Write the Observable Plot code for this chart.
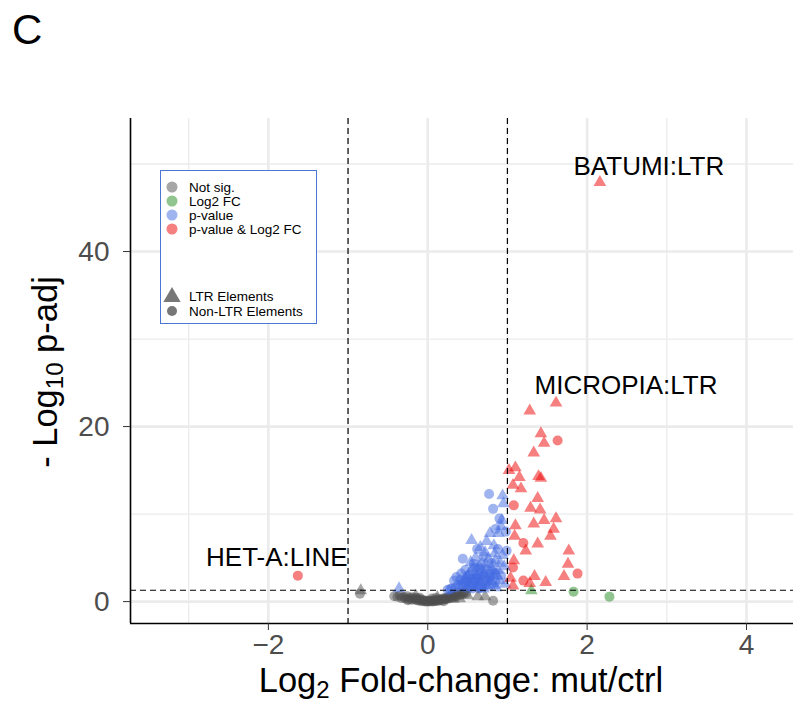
<!DOCTYPE html>
<html><head><meta charset="utf-8">
<script src="https://cdn.jsdelivr.net/npm/d3@7"></script>
<script src="https://cdn.jsdelivr.net/npm/@observablehq/plot@0.6"></script>
<style>
body{margin:0;background:#fff;font-family:"Liberation Sans",Arial,sans-serif;}
#wrap{position:relative;width:793px;height:723px;}
#panel{position:absolute;left:12px;top:6px;font-size:42px;color:#000;z-index:2;}
</style></head><body><div id="wrap"><div id="panel">C</div></div>
<script>
// ---- data (x = log2 fold-change, y = -log10 p-adj) ----
const notSigLTR = [[-0.84,1.26],[0.50,0.69],[0.63,0.57],[0.72,0.57],[0.32,0.30],[0.12,0.50],[-0.15,0.65],[0.40,0.35]];
const notSigNonLTR = [[-0.85,0.91],[-0.42,0.62],[-0.38,0.55],[-0.35,0.70],[-0.33,0.40],[-0.30,0.52],[-0.28,0.35],[-0.26,0.60],[-0.24,0.28],[-0.22,0.45],[-0.20,0.22],[-0.19,0.50],[-0.17,0.30],[-0.15,0.18],[-0.14,0.40],[-0.12,0.12],[-0.11,0.28],[-0.09,0.08],[-0.08,0.22],[-0.06,0.05],[-0.05,0.15],[-0.03,0.02],[-0.02,0.10],[0.00,0.00],[0.01,0.06],[0.03,0.03],[0.04,0.12],[0.06,0.02],[0.07,0.09],[0.09,0.05],[0.10,0.15],[0.12,0.08],[0.13,0.20],[0.15,0.12],[0.16,0.28],[0.18,0.18],[0.19,0.35],[0.21,0.25],[0.22,0.42],[0.24,0.30],[0.25,0.50],[0.27,0.38],[0.28,0.60],[0.30,0.45],[0.31,0.70],[0.33,0.55],[0.35,0.80],[0.36,0.62],[0.38,0.90],[0.40,0.72],[0.42,1.00],[0.44,0.85],[0.46,1.10],[0.48,0.95],[0.82,0.10],[0.05,0.35],[-0.10,0.45],[0.20,0.05],[-0.25,0.15],[0.10,0.40]];
const log2fcLTR = [[1.30,1.26]];
const log2fcNonLTR = [[1.83,1.14],[2.28,0.57]];
const pvalLTR = [[0.94,12.1],[0.95,11.2],[0.93,9.3],[0.78,7.8],[0.89,7.8],[0.55,7.0],[0.66,6.2],[0.83,6.4],[0.85,4.7],[0.94,5.3],[0.72,5.6],[0.60,5.0],[0.68,4.4],[0.76,4.9],[0.80,3.9],[0.88,3.6],[0.63,3.4],[0.70,3.0],[0.56,3.8],[0.50,2.9],[0.58,2.5],[0.66,2.2],[0.74,2.6],[0.82,2.9],[0.90,2.4],[0.52,2.0],[0.62,1.7],[0.77,1.9],[0.86,1.6],[0.45,2.4],[0.48,1.6],[0.70,1.45],[0.97,2.0],[0.92,8.6],[0.74,6.9],[0.64,4.0],[0.54,4.5],[0.84,5.5],[-0.36,1.49],[0.40,1.8],[0.96,4.0],[0.53,3.3],[0.59,1.6],[0.67,3.7],[0.73,4.2],[0.79,2.3],[0.87,3.0],[0.61,2.9],[0.69,2.5],[0.75,1.7],[0.83,1.9],[0.57,3.0],[0.65,1.9],[0.71,3.3],[0.81,3.5],[0.47,2.7],[0.91,4.4]];
const pvalNonLTR = [[0.77,12.3],[0.82,10.6],[0.99,5.8],[0.98,8.0],[0.44,4.9],[0.33,2.4],[0.38,1.9],[0.42,3.2],[0.30,1.5],[0.36,2.8],[0.47,3.6],[0.52,3.0],[0.57,2.1],[0.60,3.9],[0.65,2.8],[0.72,3.7],[0.78,3.2],[0.85,2.2],[0.50,1.5],[0.68,1.6],[0.80,4.4],[0.88,6.0],[0.70,5.2],[0.58,4.3],[0.46,2.2],[0.55,1.8],[0.63,2.6],[0.75,2.4],[0.92,3.0],[0.35,1.6],[0.41,2.5],[0.28,1.4],[0.25,1.35],[0.62,6.0],[0.90,9.5],[0.85,8.3],[0.49,2.3],[0.54,2.6],[0.60,2.3],[0.66,3.1],[0.72,2.0],[0.78,2.8],[0.84,3.3],[0.56,1.5],[0.64,1.5],[0.44,1.7]];
const bothLTR = [[2.16,47.9],[1.61,22.7],[1.28,21.8],[1.42,19.2],[1.46,18.1],[1.33,17.0],[1.02,15.0],[1.10,15.3],[1.15,14.2],[1.39,14.3],[1.42,14.1],[1.07,13.3],[1.17,12.9],[1.38,11.8],[1.29,10.7],[1.41,10.5],[1.61,9.5],[1.46,9.3],[1.33,8.9],[1.58,8.3],[1.54,7.5],[1.10,8.7],[1.09,7.5],[1.23,5.8],[1.38,6.6],[1.77,5.8],[1.76,4.3],[1.08,4.7],[1.71,2.9],[1.34,2.9],[1.48,2.2],[1.04,2.7],[1.07,1.8],[1.28,2.1]];
const bothNonLTR = [[1.63,18.4],[1.08,11.0],[1.20,6.7],[1.07,3.9],[1.88,3.2],[1.20,2.4],[-1.63,2.97]];
const categories = ["Not sig.","Log2 FC","p-value","p-value & Log2 FC"];
const categoryColors = ["#4D4D4D","#228B22","#4169E1","#EE0000"];
const shapeLabels = ["LTR Elements","Non-LTR Elements"];
const labelled = [{name:"BATUMI:LTR",x:2.16,y:47.9},{name:"MICROPIA:LTR",x:1.61,y:22.7},{name:"HET-A:LINE",x:-1.63,y:2.97}];
const xTicks = [-2,0,2,4], xMinor = [-3,-1,1,3];
const yTicks = [0,20,40], yMinor = [10,30,50];
const fcCut = [-1,1], pCut = [-Math.log10(0.05)];
const xDomain = [-3.73,4.59], yDomain = [-2.5,55.2];

// ---- build table ----
const groups = [
  [notSigLTR,0,"LTR"],[notSigNonLTR,0,"non"],
  [log2fcLTR,1,"LTR"],[log2fcNonLTR,1,"non"],
  [pvalLTR,2,"LTR"],[pvalNonLTR,2,"non"],
  [bothLTR,3,"LTR"],[bothNonLTR,3,"non"]];
const pts = [];
for (const [arr,c,t] of groups) for (const [x,y] of arr) pts.push({x,y,cat:categories[c],color:categoryColors[c],type:t});

const labelStyle = {"BATUMI:LTR":[49,-16],"MICROPIA:LTR":[70,-17],"HET-A:LINE":[-21,-18]};
const font = "'Liberation Sans', Arial, Helvetica, sans-serif";
const grid = "#ebebeb";

const plot = Plot.plot({
  width:793, height:723,
  marginLeft:130, marginRight:0, marginTop:118, marginBottom:100,
  x:{domain:xDomain}, y:{domain:yDomain},
  style:{fontFamily:font, background:"white", overflow:"visible"},
  marks:[
    Plot.ruleX(xMinor,{stroke:grid,strokeWidth:1.3}),
    Plot.ruleY(yMinor,{stroke:grid,strokeWidth:1.3}),
    Plot.ruleX(xTicks,{stroke:grid,strokeWidth:2.6}),
    Plot.ruleY(yTicks,{stroke:grid,strokeWidth:2.6}),
    Plot.dot(pts.filter(d=>d.type==="non"),{x:"x",y:"y",fill:"color",fillOpacity:0.5,r:5,symbol:"circle"}),
    Plot.dot(pts.filter(d=>d.type==="LTR"),{x:"x",y:"y",fill:"color",fillOpacity:0.5,r:4.7,symbol:"triangle"}),
    Plot.ruleX(fcCut,{stroke:"black",strokeWidth:1.2,strokeDasharray:"6,4"}),
    Plot.ruleY(pCut,{stroke:"black",strokeWidth:1.2,strokeDasharray:"6,4"}),
    ...labelled.map(l=>Plot.text([l],{x:"x",y:"y",text:"name",dx:labelStyle[l.name][0],dy:labelStyle[l.name][1],fontSize:26,fill:"black"})),
    Plot.ruleX([xDomain[0]],{stroke:"black",strokeWidth:1.6}),
    Plot.ruleY([yDomain[0]],{stroke:"black",strokeWidth:1.6}),
    Plot.axisY(yTicks,{tickSize:7,tickPadding:14,fontSize:28,label:null,stroke:"#333",fill:"#4d4d4d"}),
    Plot.axisX(xTicks,{tickSize:7,tickPadding:4,fontSize:28,label:null,stroke:"#333",fill:"#4d4d4d"})
  ]
});
document.getElementById("wrap").appendChild(plot);

// ---- titles and legend ----
const svg = d3.select(plot);
const yt = svg.append("text").attr("transform","translate(57,372) rotate(-90)")
  .attr("text-anchor","middle").attr("font-size",34.5).attr("fill","black").attr("font-family",font);
yt.append("tspan").text("- Log");
yt.append("tspan").attr("font-size",24).attr("dy",6).text("10");
yt.append("tspan").attr("dy",-6).text(" p-adj");
const xt = svg.append("text").attr("transform","translate(461,692)")
  .attr("text-anchor","middle").attr("font-size",34.5).attr("fill","black").attr("font-family",font);
xt.append("tspan").text("Log");
xt.append("tspan").attr("font-size",24).attr("dy",6).text("2");
xt.append("tspan").attr("dy",-6).text(" Fold-change: mut/ctrl");

const lg = svg.append("g").attr("font-family",font).attr("text-anchor","start");
lg.append("rect").attr("x",160.5).attr("y",170.5).attr("width",156).attr("height",153)
  .attr("fill","white").attr("stroke","#4a76d4").attr("stroke-width",1);
categories.forEach((c,i)=>{
  lg.append("circle").attr("cx",172).attr("cy",187+14*i).attr("r",5.5).attr("fill",categoryColors[i]).attr("fill-opacity",0.5);
  lg.append("text").attr("x",189).attr("y",191.5+14*i).attr("font-size",13.5).attr("fill","black").text(c);
});
lg.append("path").attr("d",d3.symbol(d3.symbolTriangle,130)()).attr("transform","translate(172,297)").attr("fill","#777");
lg.append("circle").attr("cx",172).attr("cy",311).attr("r",5).attr("fill","#777");
shapeLabels.forEach((s,i)=>{
  lg.append("text").attr("x",189).attr("y",301+15*i).attr("font-size",13.5).attr("fill","black").text(s);
});
</script></body></html>
